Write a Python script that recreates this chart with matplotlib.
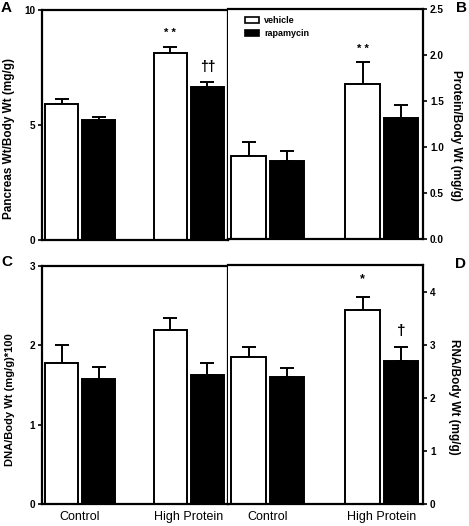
import matplotlib
matplotlib.use("Agg")
import matplotlib.pyplot as plt
from matplotlib.patches import Patch
import numpy as np

plt.rcParams['font.family'] = ['Liberation Sans', 'DejaVu Sans']

groups = ["Control", "High Protein"]
series = ["vehicle", "rapamycin"]

# panel A: pancreas wt / body wt
pancreas_veh = [5.91, 8.14]
pancreas_veh_err = [0.21, 0.24]
pancreas_rap = [5.23, 6.67]
pancreas_rap_err = [0.12, 0.19]

# panel B: protein / body wt
protein_veh = [0.90, 1.68]
protein_veh_err = [0.15, 0.24]
protein_rap = [0.85, 1.32]
protein_rap_err = [0.11, 0.14]

# panel C: DNA / body wt
dna_veh = [1.78, 2.19]
dna_veh_err = [0.22, 0.15]
dna_rap = [1.58, 1.63]
dna_rap_err = [0.15, 0.15]

# panel D: RNA / body wt
rna_veh = [2.77, 3.66]
rna_veh_err = [0.19, 0.23]
rna_rap = [2.39, 2.69]
rna_rap_err = [0.17, 0.27]

W, H = 469, 526
fig = plt.figure(figsize=(W / 100, H / 100), dpi=100)


def frac(x0, y0, x1, y1):
    return [x0 / W, 1 - y1 / H, (x1 - x0) / W, (y1 - y0) / H]


axA = fig.add_axes(frac(42, 10, 228, 240))
axB = fig.add_axes(frac(228, 9, 423, 239))
axC = fig.add_axes(frac(42, 266, 228, 504))
axD = fig.add_axes(frac(228, 265, 423, 504))

x = np.arange(len(groups))
bw = 0.30
off = 0.17
lw = 1.4


def draw(ax, veh, veh_err, rap, rap_err):
    for vals, errs, dx, col in [(veh, veh_err, -off, "white"), (rap, rap_err, off, "black")]:
        ax.errorbar(x + dx, vals, yerr=[np.zeros(len(vals)), errs], fmt="none",
                    ecolor="black", elinewidth=lw, capsize=5, capthick=lw, zorder=1)
        ax.bar(x + dx, vals, width=bw, color=col, edgecolor="black", linewidth=lw, zorder=2)
    ax.set_xlim(-0.35, 1.36)
    for s in ax.spines.values():
        s.set_linewidth(1.6)
    ax.tick_params(axis="y", width=1.2, length=3, pad=2)


tick_font = dict(fontsize=7.2, fontweight="bold")

# A
draw(axA, pancreas_veh, pancreas_veh_err, pancreas_rap, pancreas_rap_err)
axA.set_ylim(0, 10)
axA.set_yticks([0, 5, 10])
axA.set_yticklabels(["0", "5", "10"], **tick_font)
axA.set_xticks([])
axA.set_ylabel("Pancreas Wt/Body Wt (mg/g)", fontsize=8.5, fontweight="bold")
axA.yaxis.set_label_coords(-0.145, 0.44)
axA.text(1 - off, 9.0, "* *", ha="center", va="center", fontsize=8, fontweight="bold")
axA.text(1 + off, 7.5, "\u2020\u2020", ha="center", va="center", fontsize=10, fontweight="bold")

# B
draw(axB, protein_veh, protein_veh_err, protein_rap, protein_rap_err)
axB.set_ylim(0, 2.5)
axB.spines["left"].set_visible(False)
axB.yaxis.tick_right()
axB.yaxis.set_label_position("right")
axB.set_yticks(np.arange(0, 2.51, 0.5))
axB.set_yticklabels(["0.0", "0.5", "1.0", "1.5", "2.0", "2.5"], **tick_font)
axB.set_xticks([])
axB.set_ylabel("Protein/Body Wt (mg/g)", fontsize=8.5, fontweight="bold", rotation=270)
axB.yaxis.set_label_coords(1.2, 0.45)
axB.text(1 - off, 2.07, "* *", ha="center", va="center", fontsize=8, fontweight="bold")
handles = [Patch(facecolor="white", edgecolor="black", linewidth=1.2, label=series[0]),
           Patch(facecolor="black", edgecolor="black", linewidth=1.2, label=series[1])]
axB.legend(handles=handles, loc="upper left", bbox_to_anchor=(0.05, 1.0), frameon=False,
           prop=dict(size=6.5, weight="bold"), handlelength=1.6, handleheight=0.6,
           handletextpad=0.5, labelspacing=0.4, borderaxespad=0.4)

# C
draw(axC, dna_veh, dna_veh_err, dna_rap, dna_rap_err)
axC.set_ylim(0, 3)
axC.set_yticks([0, 1, 2, 3])
axC.set_yticklabels(["0", "1", "2", "3"], **tick_font)
axC.set_xticks(x)
axC.set_xticklabels(groups, fontsize=9)
axC.tick_params(axis="x", length=0, pad=5)
axC.set_ylabel("DNA/Body Wt (mg/g)*100", fontsize=8, fontweight="bold")
axC.yaxis.set_label_coords(-0.145, 0.44)

# D
draw(axD, rna_veh, rna_veh_err, rna_rap, rna_rap_err)
axD.set_ylim(0, 4.5)
axD.spines["left"].set_visible(False)
axD.yaxis.tick_right()
axD.yaxis.set_label_position("right")
axD.set_yticks([0, 1, 2, 3, 4])
axD.set_yticklabels(["0", "1", "2", "3", "4"], **tick_font)
axD.set_xticks(x)
axD.set_xticklabels(groups, fontsize=9)
axD.tick_params(axis="x", length=0, pad=5)
axD.set_ylabel("RNA/Body Wt (mg/g)", fontsize=8.5, fontweight="bold", rotation=270)
axD.yaxis.set_label_coords(1.19, 0.45)
axD.text(1 - off, 4.23, "*", ha="center", va="center", fontsize=9, fontweight="bold")
axD.text(1 + off, 3.26, "\u2020", ha="center", va="center", fontsize=11, fontweight="bold")

# panel letters
for lab, px, py in [("A", 6, 8), ("B", 461, 8), ("C", 7, 262), ("D", 460, 264)]:
    fig.text(px / W, 1 - py / H, lab, fontsize=11, fontweight="bold", ha="center", va="center")

fig.savefig("out.png", dpi=100)
